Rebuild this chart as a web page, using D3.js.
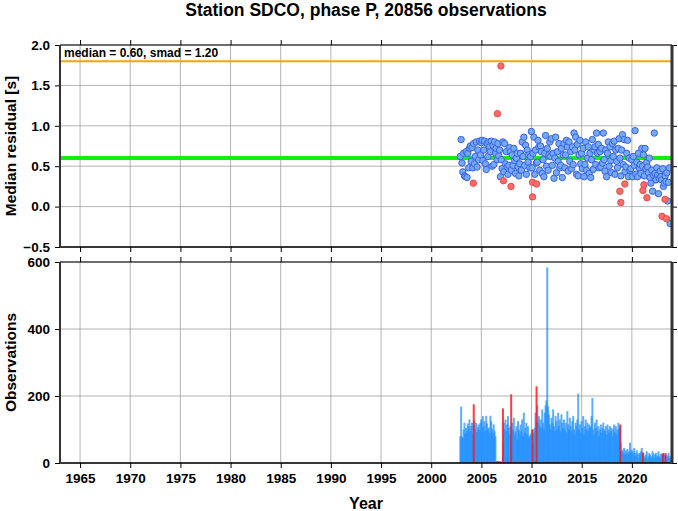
<!DOCTYPE html>
<html><head><meta charset="utf-8">
<script src="https://cdn.jsdelivr.net/npm/d3@7"></script>
<style>
body{margin:0;background:#fff;}
text{font-family:"Liberation Sans",Arial,Helvetica,sans-serif;font-weight:bold;}
</style></head>
<body><svg id="c" width="678" height="511"></svg>
<script>
// ---- data ----
const title = "Station SDCO, phase P, 20856 observations";
const statsLabel = "median = 0.60, smad = 1.20";
const medianValue = 0.60;
const upperLimit = 1.80;
const xTicks = [1965,1970,1975,1980,1985,1990,1995,2000,2005,2010,2015,2020];
const residTicks = [-0.5,0.0,0.5,1.0,1.5,2.0];
const obsTicks = [0,200,400,600];
const firstMonth = 2002.9; // decimal year of first monthly sample
// monthly median residuals (blue points)
const residuals = [
 0.62,0.83,0.54,0.43,0.66,0.38,0.37,0.68,0.36,0.66,0.48,0.72,
 0.75,0.56,0.73,0.48,0.78,0.53,0.62,0.80,0.49,0.70,0.58,0.81,
 0.64,0.79,0.82,0.57,0.70,0.81,0.53,0.46,0.78,0.62,0.80,0.74,
 0.68,0.81,0.50,0.76,0.52,0.80,0.66,0.72,0.58,0.78,0.63,0.70,
 0.37,0.58,0.47,0.80,0.43,0.78,0.53,0.68,0.49,0.40,0.51,0.73,
 0.68,0.45,0.64,0.51,0.72,0.57,0.41,0.60,0.66,0.49,0.38,0.53,
 0.66,0.45,0.80,0.62,0.86,0.51,0.76,0.40,0.70,0.55,0.64,0.48,
 0.62,0.93,0.48,0.66,0.86,0.40,0.70,0.54,0.55,0.82,0.74,0.45,
 0.75,0.68,0.41,0.58,0.37,0.66,0.88,0.50,0.72,0.45,0.64,0.80,
 0.62,0.84,0.51,0.66,0.35,0.60,0.86,0.42,0.68,0.56,0.78,0.48,
 0.51,0.72,0.36,0.64,0.78,0.48,0.64,0.82,0.74,0.44,0.80,0.56,
 0.68,0.47,0.74,0.52,0.91,0.70,0.86,0.40,0.77,0.38,0.64,0.82,
 0.53,0.66,0.47,0.72,0.37,0.52,0.80,0.45,0.60,0.74,0.41,0.66,
 0.36,0.58,0.83,0.46,0.70,0.74,0.52,0.91,0.66,0.77,0.48,0.68,
 0.49,0.72,0.54,0.91,0.58,0.44,0.70,0.37,0.66,0.80,0.50,0.74,
 0.57,0.42,0.78,0.62,0.81,0.40,0.70,0.56,0.48,0.72,0.84,0.60,
 0.38,0.70,0.89,0.52,0.83,0.43,0.49,0.66,0.82,0.37,0.60,0.45,
 0.47,0.58,0.37,0.62,0.51,0.94,0.40,0.55,0.37,0.66,0.48,0.52,
 0.41,0.72,0.50,0.64,0.38,0.72,0.47,0.55,0.49,0.42,0.60,0.36,
 0.29,0.45,0.19,0.39,0.91,0.41,0.33,0.48,0.39,0.16,0.35,0.44,
 0.37,0.33,0.47,0.25,0.29,0.38,0.31,0.42,0.07,0.30,0.48,-0.21
];
// outlier residuals (red points)
const outlierYears  = [2004.2,2006.6,2006.95,2007.2,2007.95,2010.1,2010.5,2010.1,2018.8,2018.9,2019.3,2021.1,2021.2,2021.5,2023.0,2023.3,2023.45];
const outlierValues = [0.29,1.15,1.74,0.32,0.25,0.30,0.28,0.12,0.19,0.05,0.28,0.20,0.27,0.11,-0.12,0.09,-0.15];
// monthly observation counts (blue bars)
const counts = [
 80,168,78,75,100,120,88,105,95,118,110,130,
 95,110,120,85,112,128,100,120,92,108,115,98,
 120,130,105,140,110,125,95,141,118,100,106,90,
 141,125,102,88,115,95,80,3,2,5,3,2,
 4,3,2,60,120,100,130,95,115,140,105,85,
 110,90,120,100,135,85,95,110,70,125,100,88,
 115,95,130,80,150,90,105,120,85,110,75,80,
 85,90,100,55,90,105,150,120,172,120,140,110,
 130,105,160,120,100,150,172,187,584,169,145,115,
 100,135,120,160,110,95,140,125,100,150,110,130,
 95,145,120,105,130,100,120,90,155,115,100,135,
 110,95,125,140,100,85,120,110,130,207,100,115,
 90,125,105,140,85,110,130,100,120,95,115,105,
 110,140,194,100,85,120,105,130,95,110,80,100,
 115,90,105,120,100,95,110,85,115,100,90,110,
 95,105,80,100,115,90,110,85,100,120,100,110,
 60,35,40,30,45,25,38,30,42,28,35,61,
 30,40,35,25,45,30,20,38,28,15,30,25,
 35,45,28,30,20,15,25,35,10,20,30,25,
 15,20,35,28,15,25,30,18,22,35,20,15,
 28,25,22,30,24,20,25,18,22,30,15,20
];
// flagged observation counts (red bars)
const redBarYears  = [2004.24,2006.6,2006.85,2007.15,2007.97,2010.1,2010.5,2018.85,2021.1,2023.1,2023.35];
const redBarCounts = [175,6,5,163,205,100,229,115,32,29,30];

// ---- layout ----
const svg = d3.select("#c");
const L = 60, R = 672;
const top1 = 45, bot1 = 247, top2 = 262, bot2 = 463;
const x = d3.scaleLinear().domain([1963, 2024]).range([L, R]);
const y1 = d3.scaleLinear().domain([-0.5, 2.0]).range([bot1, top1]);
const y2 = d3.scaleLinear().domain([0, 600]).range([bot2, top2]);
const gridCol = "#a0a0a0";

function panel(y, yt, top, bot) {
  const g = svg.append("g");
  g.selectAll(".gx").data(xTicks).enter().append("line")
    .attr("x1", d => x(d)).attr("x2", d => x(d)).attr("y1", top).attr("y2", bot)
    .attr("stroke", gridCol).attr("stroke-width", 0.8);
  g.selectAll(".gy").data(yt).enter().append("line")
    .attr("x1", L).attr("x2", R).attr("y1", d => y(d)).attr("y2", d => y(d))
    .attr("stroke", gridCol).attr("stroke-width", 0.8);
  return g;
}
function frame(y, yt, top, bot, fmt, showX) {
  const ax = svg.append("g").attr("transform", `translate(${L},0)`)
    .call(d3.axisLeft(y).tickValues(yt).tickFormat(fmt).tickSize(5).tickPadding(5));
  ax.select(".domain").remove();
  ax.selectAll("text").attr("font-size", 13.5).attr("fill", "#000");
  const axr = svg.append("g").attr("transform", `translate(${R},0)`)
    .call(d3.axisRight(y).tickValues(yt).tickFormat("").tickSize(5));
  axr.select(".domain").remove();
  const axt = svg.append("g").attr("transform", `translate(0,${top})`)
    .call(d3.axisTop(x).tickValues(xTicks).tickFormat("").tickSize(5));
  axt.select(".domain").remove();
  const axb = svg.append("g").attr("transform", `translate(0,${bot})`)
    .call(d3.axisBottom(x).tickValues(xTicks).tickFormat(showX ? d3.format("d") : "").tickSize(5).tickPadding(5));
  axb.select(".domain").remove();
  axb.selectAll("text").attr("font-size", 13.5).attr("fill", "#000");
  svg.selectAll(".tick line").attr("stroke", "#000");
  svg.append("line").attr("x1", L).attr("x2", R).attr("y1", top).attr("y2", top).attr("stroke", "#000").attr("stroke-width", 1.2);
  svg.append("line").attr("x1", L).attr("x2", R).attr("y1", bot).attr("y2", bot).attr("stroke", "#000").attr("stroke-width", 1.6);
  svg.append("line").attr("x1", L).attr("x2", L).attr("y1", top).attr("y2", bot).attr("stroke", "#333").attr("stroke-width", 2);
  svg.append("line").attr("x1", R).attr("x2", R).attr("y1", top).attr("y2", bot).attr("stroke", "#333").attr("stroke-width", 3);
}

// ---- top panel ----
panel(y1, residTicks, top1, bot1);
svg.append("clipPath").attr("id", "cp1").append("rect")
  .attr("x", L).attr("y", top1).attr("width", R - L).attr("height", bot1 - top1);
const p1 = svg.append("g").attr("clip-path", "url(#cp1)");
p1.append("line").attr("x1", L).attr("x2", R).attr("y1", y1(upperLimit)).attr("y2", y1(upperLimit))
  .attr("stroke", "#ffa500").attr("stroke-width", 2);
p1.append("line").attr("x1", L).attr("x2", R).attr("y1", y1(medianValue)).attr("y2", y1(medianValue))
  .attr("stroke", "#11ee11").attr("stroke-width", 4);
p1.selectAll(".bp").data(residuals).enter().append("circle")
  .attr("cx", (d, i) => x(firstMonth + i / 12)).attr("cy", d => y1(d)).attr("r", 3.2)
  .attr("fill", "#74a9f5").attr("stroke", "#3a62e6").attr("stroke-width", 1);
p1.selectAll(".rp").data(outlierValues).enter().append("circle")
  .attr("cx", (d, i) => x(outlierYears[i])).attr("cy", d => y1(d)).attr("r", 3.2)
  .attr("fill", "#ff6a6a").attr("stroke", "#e84a4a").attr("stroke-width", 1);
svg.append("text").attr("x", 64).attr("y", 57).attr("font-size", 12).text(statsLabel);
frame(y1, residTicks, top1, bot1, d3.format(".1f"), false);

// ---- bottom panel ----
panel(y2, obsTicks, top2, bot2);
const p2 = svg.append("g");
p2.selectAll(".bb").data(counts).enter().append("rect")
  .attr("x", (d, i) => x(firstMonth + i / 12) - 1).attr("width", 2)
  .attr("y", d => y2(d)).attr("height", d => y2(0) - y2(d))
  .attr("fill", "#1e8fff").attr("fill-opacity", 0.72);
p2.selectAll(".rb").data(redBarCounts).enter().append("rect")
  .attr("x", (d, i) => x(redBarYears[i]) - 1).attr("width", 2)
  .attr("y", d => y2(d)).attr("height", d => y2(0) - y2(d))
  .attr("fill", "#ff1a1a").attr("fill-opacity", 0.85);
frame(y2, obsTicks, top2, bot2, d3.format("d"), true);

// ---- titles ----
svg.append("text").attr("x", (L + R) / 2).attr("y", 16).attr("text-anchor", "middle")
  .attr("font-size", 17.5).text(title);
svg.append("text").attr("x", (L + R) / 2).attr("y", 509).attr("text-anchor", "middle")
  .attr("font-size", 16).text("Year");
svg.append("text").attr("transform", `translate(16,${(top1 + bot1) / 2}) rotate(-90)`)
  .attr("text-anchor", "middle").attr("font-size", 15.5).text("Median residual [s]");
svg.append("text").attr("transform", `translate(16,${(top2 + bot2) / 2}) rotate(-90)`)
  .attr("text-anchor", "middle").attr("font-size", 15.5).text("Observations");
</script></body></html>
